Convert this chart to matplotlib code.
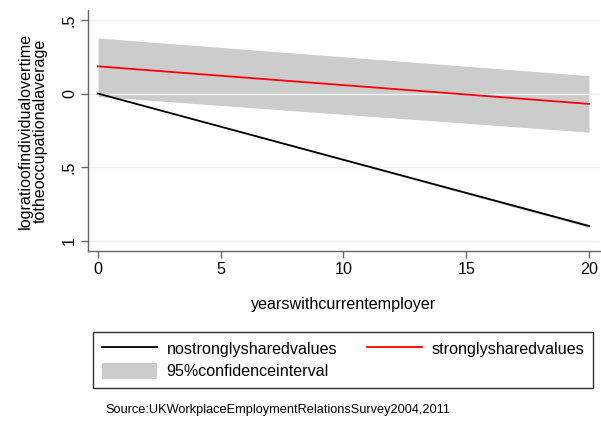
import matplotlib
matplotlib.use("Agg")
import matplotlib.pyplot as plt
from matplotlib.lines import Line2D
from matplotlib.patches import Patch

plt.rcParams['font.family'] = ['Liberation Sans', 'DejaVu Sans']

# Data
years = [0, 20]
no_shared = [0.0, -0.90]
no_shared_lo = [0.0, -0.91]
no_shared_hi = [0.0, -0.89]
shared = [0.185, -0.07]
shared_lo = [-0.02, -0.262]
shared_hi = [0.378, 0.122]

xticks = [0, 5, 10, 15, 20]
yticks = [0.5, 0, -0.5, -1]
ytick_labels = [".5", "0", ".5", "1"]

FS = 11.6

fig = plt.figure(figsize=(6.01, 4.21), dpi=100)
ax = fig.add_axes([0.1464, 0.4038, 0.8519, 0.5724])

ci_color = "#cccccc"
ax.fill_between(years, shared_lo, shared_hi, color=ci_color, lw=0, zorder=1)
ax.fill_between(years, no_shared_lo, no_shared_hi, color=ci_color, lw=0, zorder=1)
for yv in yticks:
    ax.axhline(yv, color="#eaf2f3", lw=1.0, zorder=2)
ax.plot(years, no_shared, color="black", lw=1.3, zorder=3)
ax.plot(years, shared, color="#ff0000", lw=1.3, zorder=3)

ax.set_xlim(-0.41, 20.45)
ax.set_ylim(-1.07, 0.568)
ax.set_xticks(xticks)
ax.set_xticklabels([str(t) for t in xticks], fontsize=FS)
ax.set_yticks(yticks)
ax.set_yticklabels(ytick_labels, fontsize=FS, rotation=90, va="center")

for s in ["top", "right"]:
    ax.spines[s].set_visible(False)
for s in ["left", "bottom"]:
    ax.spines[s].set_color("#666666")
    ax.spines[s].set_linewidth(1.0)
ax.tick_params(axis="both", direction="out", length=5, color="#666666", width=1.0)
ax.tick_params(axis="y", pad=3)
ax.tick_params(axis="x", pad=3)

ax.set_xlabel("yearswithcurrentemployer", fontsize=FS, labelpad=14)
ax.set_ylabel("logratioofindividualovertime\ntotheoccupationalaverage", fontsize=FS,
              labelpad=10, linespacing=1.05)

handles = [Line2D([], [], color="black", lw=1.3),
           Patch(facecolor=ci_color, edgecolor="none"),
           Line2D([], [], color="#ff0000", lw=1.3)]
labels = ["nostronglysharedvalues", "95%confidenceinterval", "stronglysharedvalues"]
leg = fig.legend(handles, labels, ncol=2, loc="lower left",
                 bbox_to_anchor=(0.155, 0.078, 0.832, 0.126), mode="expand",
                 fontsize=FS, frameon=True, fancybox=False, edgecolor="black",
                 handlelength=3.4, handleheight=1.1, handletextpad=0.6,
                 borderpad=0.55, labelspacing=0.4, borderaxespad=0)
leg.get_frame().set_linewidth(1.0)

fig.text(0.175, 0.026, "Source:UKWorkplaceEmploymentRelationsSurvey2004,2011",
         fontsize=9.2, ha="left", va="center")

fig.savefig("out.png", dpi=100, facecolor="white")
